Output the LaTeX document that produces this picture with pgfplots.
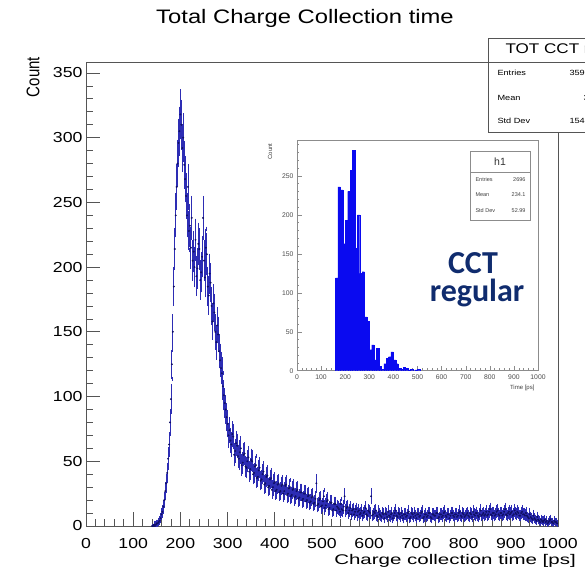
\documentclass[border=0pt]{standalone}
\usepackage{pgfplots}
\usepackage{pgfplotstable}
\pgfplotsset{compat=1.18}
\usepackage{fontspec}
\setmainfont{Liberation Sans}[FakeStretch=1.22]
\newfontfamily\plainsans{Liberation Sans}
\newfontfamily\cct{Carlito}
\definecolor{errblue}{RGB}{45,45,180}
\definecolor{ptblue}{RGB}{15,15,100}
\definecolor{histblue}{RGB}{10,10,240}
\definecolor{cctblue}{RGB}{16,44,110}
\definecolor{framegray}{RGB}{85,85,85}

\pgfplotstableread[row sep=\\]{
x y\\
140 0\\ 142 0\\ 144 1\\ 146 0\\ 148 1\\ 150 2\\ 152 2\\ 154 3\\ 156 4\\ 158 6\\
160 9\\ 162 11\\ 164 15\\ 166 20\\ 168 27\\ 170 33\\ 172 41\\ 174 52\\ 176 63\\ 178 80\\
180 98\\ 182 125\\ 184 150\\ 186 185\\ 188 214\\ 190 240\\ 192 262\\ 194 280\\ 196 296\\ 198 305\\
200 318\\ 202 310\\ 204 292\\ 206 300\\ 208 279\\ 210 268\\ 212 255\\ 214 240\\ 216 262\\ 218 228\\
220 232\\ 222 215\\ 224 238\\ 226 205\\ 228 212\\ 230 200\\ 232 221\\ 234 193\\ 236 199\\ 238 218\\
240 214\\ 242 190\\ 244 196\\ 246 208\\ 248 238\\ 250 205\\ 252 192\\ 254 215\\ 256 210\\ 258 185\\
260 178\\ 262 195\\ 264 188\\ 266 170\\ 268 158\\ 270 172\\ 272 165\\ 274 150\\ 276 142\\ 278 155\\
280 148\\ 282 135\\ 284 128\\ 286 122\\ 288 118\\ 290 108\\ 292 101\\ 294 95\\ 296 90\\ 298 84\\
300 79\\ 302 70\\ 304 74\\ 306 66\\ 308 63\\ 310 71\\ 312 69\\ 314 55\\ 316 58\\ 318 64\\
320 62\\ 322 54\\ 324 52\\ 326 57\\ 328 60\\ 330 47\\ 332 49\\ 334 55\\ 336 56\\ 338 46\\
340 45\\ 342 50\\ 344 53\\ 346 42\\ 348 44\\ 350 51\\ 352 50\\ 354 40\\ 356 41\\ 358 46\\
360 47\\ 362 37\\ 364 38\\ 366 43\\ 368 45\\ 370 35\\ 372 36\\ 374 40\\ 376 42\\ 378 32\\
380 33\\ 382 38\\ 384 39\\ 386 30\\ 388 31\\ 390 36\\ 392 37\\ 394 28\\ 396 30\\ 398 33\\
400 34\\ 402 27\\ 404 28\\ 406 32\\ 408 33\\ 410 26\\ 412 27\\ 414 31\\ 416 32\\ 418 25\\
420 27\\ 422 31\\ 424 32\\ 426 24\\ 428 25\\ 430 29\\ 432 30\\ 434 23\\ 436 24\\ 438 28\\
440 29\\ 442 22\\ 444 23\\ 446 27\\ 448 28\\ 450 21\\ 452 22\\ 454 26\\ 456 26\\ 458 20\\
460 21\\ 462 25\\ 464 25\\ 466 19\\ 468 20\\ 470 23\\ 472 24\\ 474 18\\ 476 19\\ 478 22\\
480 23\\ 482 17\\ 484 18\\ 486 21\\ 488 33\\ 490 16\\ 492 17\\ 494 20\\ 496 21\\ 498 15\\
500 16\\ 502 19\\ 504 23\\ 506 14\\ 508 16\\ 510 19\\ 512 20\\ 514 13\\ 516 14\\ 518 18\\
520 18\\ 522 12\\ 524 13\\ 526 17\\ 528 17\\ 530 12\\ 532 15\\ 534 14\\ 536 13\\ 538 11\\
540 17\\ 542 13\\ 544 12\\ 546 15\\ 548 23\\ 550 12\\ 552 14\\ 554 15\\ 556 10\\ 558 12\\
560 14\\ 562 9\\ 564 12\\ 566 13\\ 568 9\\ 570 11\\ 572 13\\ 574 8\\ 576 11\\ 578 12\\
580 9\\ 582 10\\ 584 12\\ 586 8\\ 588 10\\ 590 11\\ 592 14\\ 594 9\\ 596 8\\ 598 12\\
600 11\\ 602 10\\ 604 23\\ 606 8\\ 608 9\\ 610 11\\ 612 10\\ 614 12\\ 616 8\\ 618 7\\
620 11\\ 622 9\\ 624 8\\ 626 7\\ 628 10\\ 630 9\\ 632 6\\ 634 10\\ 636 9\\ 638 7\\
640 11\\ 642 8\\ 644 7\\ 646 9\\ 648 10\\ 650 6\\ 652 8\\ 654 10\\ 656 12\\ 658 8\\
660 7\\ 662 10\\ 664 9\\ 666 7\\ 668 10\\ 670 8\\ 672 6\\ 674 9\\ 676 9\\ 678 7\\
680 8\\ 682 10\\ 684 11\\ 686 6\\ 688 7\\ 690 10\\ 692 9\\ 694 7\\ 696 10\\ 698 8\\
700 6\\ 702 9\\ 704 9\\ 706 7\\ 708 8\\ 710 10\\ 712 11\\ 714 6\\ 716 7\\ 718 9\\
720 9\\ 722 7\\ 724 8\\ 726 10\\ 728 10\\ 730 7\\ 732 6\\ 734 9\\ 736 9\\ 738 8\\
740 8\\ 742 10\\ 744 10\\ 746 6\\ 748 7\\ 750 9\\ 752 9\\ 754 7\\ 756 8\\ 758 10\\
760 11\\ 762 8\\ 764 7\\ 766 9\\ 768 9\\ 770 6\\ 772 8\\ 774 10\\ 776 10\\ 778 8\\
780 7\\ 782 9\\ 784 9\\ 786 7\\ 788 8\\ 790 10\\ 792 11\\ 794 8\\ 796 7\\ 798 10\\
800 9\\ 802 7\\ 804 8\\ 806 9\\ 808 10\\ 810 8\\ 812 7\\ 814 10\\ 816 9\\ 818 7\\
820 11\\ 822 9\\ 824 8\\ 826 10\\ 828 10\\ 830 8\\ 832 7\\ 834 9\\ 836 12\\ 838 8\\
840 9\\ 842 10\\ 844 8\\ 846 9\\ 848 11\\ 850 8\\ 852 9\\ 854 11\\ 856 13\\ 858 9\\
860 8\\ 862 10\\ 864 10\\ 866 8\\ 868 9\\ 870 11\\ 872 12\\ 874 9\\ 876 8\\ 878 10\\
880 10\\ 882 8\\ 884 9\\ 886 11\\ 888 13\\ 890 9\\ 892 8\\ 894 10\\ 896 11\\ 898 9\\
900 10\\ 902 11\\ 904 8\\ 906 9\\ 908 12\\ 910 10\\ 912 9\\ 914 11\\ 916 10\\ 918 8\\
920 8\\ 922 10\\ 924 11\\ 926 9\\ 928 9\\ 930 8\\ 932 10\\ 934 8\\ 936 7\\ 938 6\\
940 9\\ 942 7\\ 944 6\\ 946 5\\ 948 8\\ 950 6\\ 952 5\\ 954 4\\ 956 7\\ 958 5\\
960 4\\ 962 3\\ 964 5\\ 966 4\\ 968 3\\ 970 4\\ 972 5\\ 974 3\\ 976 4\\ 978 2\\
980 3\\ 982 4\\ 984 5\\ 986 3\\ 988 3\\ 990 2\\ 992 4\\ 994 3\\ 996 3\\ 998 2\\
}\maindata

\pgfplotstableread[row sep=\\]{
x y\\
160 119\\ 170 236\\ 180 232\\ 190 163\\ 200 193\\ 210 230\\ 220 257\\ 230 283\\
240 157\\ 250 200\\ 260 125\\ 270 127\\ 280 69\\ 290 63\\ 300 27\\ 310 33\\
320 14\\ 330 29\\ 340 6\\ 350 2\\ 360 9\\ 370 16\\ 380 18\\ 390 24\\
400 14\\ 410 9\\ 420 3\\ 430 2\\ 440 4\\ 450 3\\ 460 1\\ 470 2\\
480 0\\ 490 1\\ 500 2\\ 510 0\\
}\insetdata

\begin{document}
\begin{tikzpicture}[x=1pt,y=1pt]
\useasboundingbox (0,0) rectangle (585,567);
\clip (0,0) rectangle (585,567);

\node[font=\fontsize{19.5}{21}\selectfont] at (305,549) {Total Charge Collection time};

\begin{axis}[
  at={(86pt,41pt)}, anchor=south west,
  scale only axis, width=472pt, height=464pt,
  xmin=0, xmax=1000, ymin=0, ymax=358.5,
  xtick distance=100, ytick distance=50, minor tick num=4,
  tick align=inside, tick pos=left,
  major tick length=14pt, minor tick length=7pt,
  axis line style={framegray, line width=0.8pt},
  every tick/.style={framegray, line width=0.8pt},
  every minor tick/.style={framegray, line width=0.8pt},
  tick label style={font=\fontsize{14.5}{16}\selectfont},
  xticklabel style={yshift=-9pt},
  /pgf/number format/assume math mode=true,
  /pgf/number format/1000 sep={},
  clip=true,
]
\addplot[only marks, mark=*, mark size=0.75pt, color=ptblue,
  error bars/.cd, y dir=both, y explicit, error mark=-,
  error bar style={errblue, line width=0.85pt},
  error mark options={errblue, line width=0.75pt, mark size=2pt}]
  table[x=x, y=y, y error expr=sqrt(\thisrow{y})] {\maindata};
\end{axis}

\node[anchor=base east, inner sep=0pt, font=\fontsize{14}{16}\selectfont] at (576,2.7) {\scalebox{1.2}[1]{Charge collection time [ps]}};
\node[rotate=90, font=\fontsize{15}{17}\selectfont] at (33,490) {\scalebox{1}[1.22]{\plainsans Count}};

% inset
\fill[white] (255,165) rectangle (555,439);
\begin{axis}[
  at={(297pt,196.3pt)}, anchor=south west,
  scale only axis, width=241pt, height=230.7pt,
  xmin=0, xmax=1000, ymin=0, ymax=296,
  xtick distance=100, ytick distance=50, minor tick num=4,
  tick align=inside, tick pos=left,
  major tick length=4.5pt, minor tick length=2.2pt,
  axis line style={black!45, line width=0.4pt},
  every tick/.style={black!45, line width=0.4pt},
  every minor tick/.style={black!45, line width=0.4pt},
  tick label style={font=\plainsans\fontsize{6.8}{7}\selectfont, text=black!70},
  xticklabel style={yshift=-1pt},
  /pgf/number format/assume math mode=true,
  /pgf/number format/1000 sep={},
]
\addplot[ybar interval, fill=histblue, draw=histblue, line width=0.2pt] table[x=x, y=y] {\insetdata};
\end{axis}
\node[rotate=90, anchor=east, font=\plainsans\fontsize{6}{7}\selectfont, text=black!75] at (270,427) {Count};
\node[anchor=east, font=\plainsans\fontsize{6}{7}\selectfont, text=black!75] at (538,179) {Time [ps]};

% inset stats box
\draw[black!45, line width=0.4pt, fill=white] (470,416) rectangle (530,347);
\draw[black!45, line width=0.4pt] (470,395) -- (530,395);
\node[font=\plainsans\fontsize{10.5}{11}\selectfont, text=black!80] at (500,405.5) {h1};
\begin{scope}[every node/.style={font=\plainsans\fontsize{5.5}{6}\selectfont, text=black!75}]
\node[anchor=west] at (472,387) {Entries};
\node[anchor=east] at (529,387) {2696};
\node[anchor=west] at (472,372) {Mean};
\node[anchor=east] at (529,372) {234.1};
\node[anchor=west] at (472,356) {Std Dev};
\node[anchor=east] at (529,356) {52.99};
\end{scope}

% CCT regular
\node[anchor=base, inner sep=0pt, font=\cct\bfseries\fontsize{32}{34}\selectfont, text=cctblue] at (473,293) {CCT};
\node[anchor=base, inner sep=0pt, font=\cct\bfseries\fontsize{32}{34}\selectfont, text=cctblue] at (477,265) {regular};

% main stats box
\draw[framegray, line width=0.8pt, fill=white] (488,529) rectangle (640,435);
\draw[framegray, line width=0.8pt] (488,505) -- (640,505);
\node[anchor=west, font=\fontsize{14}{16}\selectfont] at (502,517) {TOT CCT regular};
\begin{scope}[every node/.style={font=\fontsize{7.5}{9}\selectfont}]
\node[anchor=west] at (494,494) {Entries};
\node[anchor=west] at (566,494) {35936};
\node[anchor=west] at (494,469) {Mean};
\node[anchor=west] at (580,469) {324.9};
\node[anchor=west] at (494,446) {Std Dev};
\node[anchor=west] at (566,446) {154.3};
\end{scope}
\end{tikzpicture}
\end{document}
